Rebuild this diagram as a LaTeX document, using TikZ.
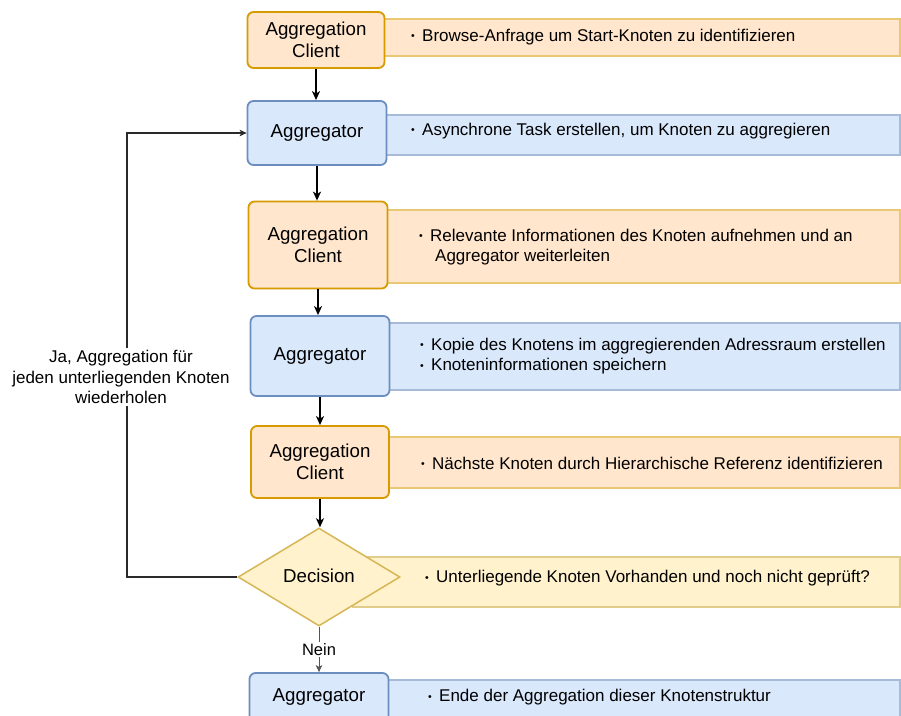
\documentclass[tikz,border=0pt]{standalone}
\usepackage{fontspec}
\setmainfont{Liberation Sans}
\usetikzlibrary{arrows.meta,shapes.geometric}

\definecolor{orFill}{HTML}{FFE6CC}
\definecolor{orLine}{HTML}{D79B00}
\definecolor{blFill}{HTML}{DAE8FC}
\definecolor{blLine}{HTML}{6C8EBF}
\definecolor{yeFill}{HTML}{FFF2CC}
\definecolor{yeLine}{HTML}{D6B656}
\definecolor{loopGray}{HTML}{2A2A2A}
\definecolor{neinGray}{HTML}{555555}

\newcommand\boxfont{\fontsize{18.7}{22}\selectfont}
\newcommand\panelfont{\fontsize{17}{20.5}\selectfont}
\newcommand\bul{\makebox[11pt][l]{\raisebox{1.4pt}{\fontsize{10.5}{10.5}\selectfont •}}}

\tikzset{
  stepbox/.style={rectangle, rounded corners=6pt, line width=1.8pt, inner sep=0pt,
    align=center, font=\boxfont, text=black},
  clientbox/.style={stepbox, fill=orFill, draw=orLine},
  aggbox/.style={stepbox, fill=blFill, draw=blLine},
  decbox/.style={diamond, inner sep=0pt, fill=yeFill, draw=yeLine, line width=1.5pt,
    font=\boxfont, minimum width=162pt, minimum height=98pt, aspect=1.65},
  panelO/.style={fill=orFill, draw=orLine!55, line width=1.2pt},
  panelB/.style={fill=blFill, draw=blLine!60, line width=1.2pt},
  panelY/.style={fill=yeFill, draw=yeLine!70, line width=1.2pt},
  paneltext/.style={anchor=west, align=left, font=\panelfont, inner sep=0pt, text=black},
  flow/.style={line width=1.5pt, -{Stealth[length=9pt,width=8pt,inset=2.5pt]}},
  thinflow/.style={line width=1.1pt, draw=loopGray, -{Stealth[length=7pt,width=6.5pt,inset=1.8pt]}},
}

\begin{document}
\begin{tikzpicture}[x=1pt,y=-1pt]
\useasboundingbox (0,0) rectangle (901,715);
\clip (0,0) rectangle (901,715);
\fill[white] (0,0) rectangle (901,715);

% description bands behind the step boxes
\draw[panelO] (380,19) rectangle (900,56);
\draw[panelB] (380,115) rectangle (900,155);
\draw[panelO] (380,210) rectangle (900,283);
\draw[panelB] (380,323) rectangle (900,390);
\draw[panelO] (380,437) rectangle (900,488);
\draw[panelY] (353,557) rectangle (900,607);
\draw[panelB] (380,680) rectangle (900,730);

% step boxes
\node[clientbox, minimum width=137pt, minimum height=56pt] (b1) at (316,40) {Aggregation\\Client};
\node[aggbox, minimum width=139pt, minimum height=64pt] (b2) at (317,133) {Aggregator};
\node[clientbox, minimum width=139pt, minimum height=87pt] (b3) at (318,245) {Aggregation\\Client};
\node[aggbox, minimum width=139pt, minimum height=80pt] (b4) at (320,356) {Aggregator};
\node[clientbox, minimum width=138pt, minimum height=72pt] (b5) at (320,462) {Aggregation\\Client};
\node[decbox] (dec) at (319,577) {};
\node[font=\boxfont, inner sep=0pt] (dectext) at (319,576) {Decision};
\node[aggbox, minimum width=139pt, minimum height=80pt] (b6) at (319,713) {};
\node[font=\boxfont, inner sep=0pt] (b6text) at (319,697) {Aggregator};

% band texts
\node[paneltext] (t1) at (411,37) {\bul Browse-Anfrage um Start-Knoten zu identifizieren};
\node[paneltext] (t2) at (411,131) {\bul Asynchrone Task erstellen, um Knoten zu aggregieren};
\node[paneltext] (t3) at (419,247) {\bul Relevante Informationen des Knoten aufnehmen und an\\\hspace{16pt}Aggregator weiterleiten};
\node[paneltext] (t4) at (420,356) {\bul Kopie des Knotens im aggregierenden Adressraum erstellen\\\bul Knoteninformationen speichern};
\node[paneltext] (t5) at (421,463) {\bul Nächste Knoten durch Hierarchische Referenz identifizieren};
\node[paneltext] (t6) at (425,578) {\bul Unterliegende Knoten Vorhanden und noch nicht geprüft?};
\node[paneltext] (t7) at (428,697) {\bul Ende der Aggregation dieser Knotenstruktur};

% main flow
\draw[flow] (b1.south) -- (b1.south |- b2.north);
\draw[flow] (b2.south) -- (b2.south |- b3.north);
\draw[flow] (b3.south) -- (b3.south |- b4.north);
\draw[flow] (b4.south) -- (b4.south |- b5.north);
\draw[flow] (b5.south) -- (b5.south |- dec.north);

% "no" branch
\draw[thinflow, draw=neinGray, line width=0.9pt] (dec.south) -- (dec.south |- b6.north)
  node[midway, fill=white, inner sep=1.5pt, font=\fontsize{16.5}{18}\selectfont, text=black] (nein) {Nein};

% loop back for the next node
\coordinate (lt) at (127,133);
\draw[thinflow] (dec.west) -| (lt) -- (b2.west);
\node[fill=white, inner sep=2pt, align=center, font=\panelfont, text=black] (looplabel) at (121,377)
  {Ja, Aggregation für\\jeden unterliegenden Knoten\\wiederholen};
\end{tikzpicture}
\end{document}
